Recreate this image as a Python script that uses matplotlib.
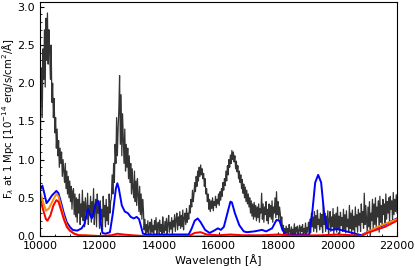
import numpy as np
import matplotlib
matplotlib.use("Agg")
import matplotlib.pyplot as plt
from matplotlib.ticker import MultipleLocator

# observed spectrum, 25 A steps from 10000 to 22000
obs_wave = np.arange(10000, 22001, 25)
obs_flux = [
    0.45, 1.90, 2.20, 1.55, 2.45, 2.05, 2.70, 1.95, 2.85, 2.30,
    2.92, 2.25, 2.70, 2.40, 2.05, 2.50, 1.75, 2.00, 1.55, 1.80,
    1.35, 1.55, 1.15, 1.40, 1.05, 1.25, 0.90, 1.15, 0.95, 1.10,
    0.78, 1.00, 0.85, 0.70, 0.95, 0.62, 0.85, 0.55, 0.78, 0.50,
    0.72, 0.45, 0.65, 0.35, 0.58, 0.62, 0.28, 0.55, 0.25, 0.50,
    0.18, 0.48, 0.30, 0.55, 0.15, 0.42, 0.25, 0.60, 0.20, 0.45,
    0.12, 0.50, 0.35, 0.22, 0.56, 0.15, 0.40, 0.28, 0.52, 0.18,
    0.45, 0.25, 0.62, 0.15, 0.38, 0.48, 0.12, 0.55, 0.30, 0.42,
    0.10, 0.46, 0.22, 0.35, 0.08, 0.52, 0.25, 0.40, 0.12, 0.48,
    0.20, 0.38, 0.15, 0.55, 0.30, 0.45, 0.50, 0.80, 0.55, 0.95,
    0.70, 1.20, 0.95, 1.55, 1.05, 1.40, 1.65, 2.10, 1.20, 1.85,
    1.05, 1.60, 1.25, 0.95, 1.40, 0.85, 1.20, 0.90, 1.15, 0.75,
    1.05, 0.70, 0.95, 0.55, 0.88, 0.62, 0.50, 0.85, 0.45, 0.72,
    0.40, 0.75, 0.55, 0.32, 0.65, 0.28, 0.55, 0.22, 0.48, 0.35,
    0.08, 0.22, 0.02, 0.15, 0.05, 0.20, 0.00, 0.12, 0.18, 0.03,
    0.22, 0.05, 0.14, 0.01, 0.20, 0.08, 0.24, 0.02, 0.12, 0.18,
    0.03, 0.21, 0.06, 0.15, 0.00, 0.25, 0.10, 0.04, 0.19, 0.07,
    0.23, 0.02, 0.16, 0.27, 0.05, 0.18, 0.09, 0.24, 0.03, 0.20,
    0.12, 0.28, 0.06, 0.22, 0.30, 0.08, 0.25, 0.14, 0.32, 0.10,
    0.27, 0.12, 0.34, 0.08, 0.24, 0.30, 0.15, 0.36, 0.18, 0.30,
    0.22, 0.40, 0.30, 0.48, 0.38, 0.60, 0.45, 0.55, 0.70, 0.58,
    0.78, 0.65, 0.85, 0.72, 0.90, 0.78, 0.93, 0.80, 0.88, 0.75,
    0.82, 0.65, 0.75, 0.55, 0.62, 0.45, 0.55, 0.35, 0.48, 0.32,
    0.46, 0.36, 0.50, 0.33, 0.45, 0.40, 0.52, 0.37, 0.48, 0.42,
    0.55, 0.40, 0.58, 0.47, 0.62, 0.52, 0.70, 0.60, 0.75, 0.66,
    0.85, 0.72, 0.92, 0.80, 1.00, 0.90, 1.06, 0.95, 1.12, 1.00,
    1.10, 0.97, 1.05, 0.88, 0.98, 0.84, 0.92, 0.75, 0.85, 0.70,
    0.80, 0.62, 0.74, 0.56, 0.68, 0.50, 0.64, 0.45, 0.60, 0.42,
    0.55, 0.38, 0.50, 0.30, 0.46, 0.26, 0.42, 0.22, 0.44, 0.25,
    0.40, 0.20, 0.38, 0.24, 0.42, 0.18, 0.36, 0.30, 0.56, 0.22,
    0.42, 0.18, 0.38, 0.28, 0.45, 0.20, 0.35, 0.16, 0.42, 0.25,
    0.40, 0.22, 0.46, 0.18, 0.38, 0.30, 0.50, 0.24, 0.58, 0.28,
    0.45, 0.20, 0.38, 0.30, 0.15, 0.25, 0.08, 0.14, 0.02, 0.10,
    0.00, 0.13, 0.04, 0.10, 0.01, 0.15, 0.06, 0.02, 0.12, 0.00,
    0.09, 0.03, 0.16, 0.01, 0.11, 0.05, 0.13, 0.00, 0.08, 0.14,
    0.02, 0.12, 0.06, 0.15, 0.00, 0.10, 0.04, 0.17, 0.02, 0.11,
    0.05, 0.18, 0.08, 0.22, 0.04, 0.30, 0.12, 0.25, 0.06, 0.32,
    0.10, 0.27, 0.05, 0.34, 0.15, 0.22, 0.08, 0.30, 0.12, 0.28,
    0.04, 0.42, 0.15, 0.30, 0.06, 0.26, 0.10, 0.33, 0.01, 0.22,
    0.32, 0.06, 0.25, 0.12, 0.36, 0.03, 0.28, 0.09, 0.30, 0.05,
    0.38, 0.10, 0.26, 0.02, 0.31, 0.14, 0.24, 0.06, 0.35, 0.08,
    0.28, 0.04, 0.33, 0.12, 0.22, 0.06, 0.40, 0.10, 0.30, 0.03,
    0.34, 0.08, 0.26, 0.02, 0.38, 0.12, 0.28, 0.05, 0.35, 0.14,
    0.30, 0.06, 0.42, 0.18, 0.32, 0.10, 0.56, 0.15, 0.40, 0.22,
    0.05, 0.38, 0.12, 0.45, -0.02, 0.30, 0.20, 0.48, 0.08, 0.42,
    0.15, 0.50, 0.10, 0.38, 0.25, 0.46, 0.05, 0.52, 0.18, 0.40,
    0.12, 0.48, 0.28, 0.42, 0.15, 0.55, 0.22, 0.45, 0.30, 0.50,
    0.18, 0.52, 0.35, 0.46, 0.20, 0.57, 0.28, 0.48, 0.32, 0.54,
    0.30,
]

# model spectra
blue_wave = [10000, 10080, 10150, 10220, 10300, 10400, 10550, 10620, 10700, 10800,
             10900, 11000, 11100, 11250, 11400, 11500, 11580, 11620, 11680, 11740,
             11800, 11880, 11950, 12000, 12050, 12100, 12200, 12350, 12450, 12550,
             12600, 12650, 12750, 12850, 12950, 13050, 13150, 13250, 13330, 13400,
             13460, 13600, 15000, 15100, 15200, 15300, 15400, 15550, 15700, 15850,
             15980, 16080, 16180, 16300, 16400, 16450, 16550, 16700, 16850, 16950,
             17200, 17460, 17600, 17800, 17950, 18050, 18150, 18250, 19050, 19150,
             19250, 19350, 19450, 19550, 19650, 19800, 20000, 20200, 20500, 20800,
             21000, 21300, 21600, 22000]
blue_flux = [0.60, 0.66, 0.55, 0.43, 0.47, 0.53, 0.59, 0.56, 0.45, 0.30,
             0.18, 0.12, 0.08, 0.07, 0.10, 0.16, 0.32, 0.35, 0.28, 0.23,
             0.30, 0.43, 0.46, 0.40, 0.15, 0.04, 0.03, 0.05, 0.30, 0.62,
             0.69, 0.62, 0.40, 0.32, 0.30, 0.25, 0.23, 0.25, 0.22, 0.12,
             0.03, 0.02, 0.02, 0.10, 0.20, 0.23, 0.18, 0.08, 0.04, 0.07,
             0.10, 0.08, 0.12, 0.30, 0.45, 0.44, 0.30, 0.14, 0.06, 0.05,
             0.06, 0.08, 0.06, 0.10, 0.21, 0.20, 0.08, 0.02, 0.02, 0.30,
             0.70, 0.80, 0.70, 0.30, 0.10, 0.08, 0.09, 0.07, 0.04, 0.01,
             0.05, 0.10, 0.15, 0.23]

orange_wave = [10000, 10100, 10200, 10300, 10450, 10550, 10620, 10700, 10800, 10900,
               11000, 11150, 11300, 12000, 20800, 21000, 21300, 21600, 22000]
orange_flux = [0.58, 0.45, 0.33, 0.36, 0.48, 0.55, 0.52, 0.40, 0.25, 0.14,
               0.08, 0.03, 0.01, 0.00, 0.00, 0.05, 0.11, 0.16, 0.22]

red_wave = [10000, 10100, 10200, 10250, 10350, 10450, 10550, 10620, 10700, 10800,
            10900, 11000, 11150, 11300, 12000, 12400, 12600, 12800, 13100, 13500,
            15000, 15200, 15400, 15600, 16000, 16400, 16800, 17500, 18000, 18500,
            19500, 20000, 20500, 20800, 21000, 21300, 21600, 22000]
red_flux = [0.50, 0.35, 0.22, 0.20, 0.27, 0.40, 0.47, 0.45, 0.35, 0.22,
            0.12, 0.07, 0.03, 0.01, 0.00, 0.01, 0.03, 0.02, 0.01, 0.00,
            0.00, 0.04, 0.05, 0.02, 0.01, 0.02, 0.01, 0.01, 0.02, 0.005,
            0.01, 0.02, 0.01, 0.00, 0.04, 0.08, 0.12, 0.20]

n = min(len(obs_wave), len(obs_flux))

fig = plt.figure(figsize=(4.15, 2.7), dpi=100)
ax = fig.add_axes([40/415, 34/270, 357/415, 234.5/270])

ax.plot(obs_wave[:n], obs_flux[:n], color='#333333', lw=0.9)
ax.plot(blue_wave, blue_flux, color='blue', lw=1.4)
ax.plot(orange_wave, orange_flux, color='darkorange', lw=1.4)
ax.plot(red_wave, red_flux, color='red', lw=1.4)

ax.set_xlim(10000, 22000)
ax.set_ylim(0, 3.07)
ax.xaxis.set_major_locator(MultipleLocator(2000))
ax.xaxis.set_minor_locator(MultipleLocator(500))
ax.yaxis.set_major_locator(MultipleLocator(0.5))
ax.yaxis.set_minor_locator(MultipleLocator(0.1))
ax.tick_params(which='both', direction='in', labelsize=8)
ax.tick_params(which='major', length=3)
ax.tick_params(which='minor', length=1.5)

ax.set_xlabel('Wavelength [Å]', fontsize=8, labelpad=2)
ax.set_ylabel(r'F$_\lambda$ at 1 Mpc [10$^{-14}$ erg/s/cm$^2$/Å]', fontsize=7.3, labelpad=1)

fig.savefig('out.png', dpi=100)
